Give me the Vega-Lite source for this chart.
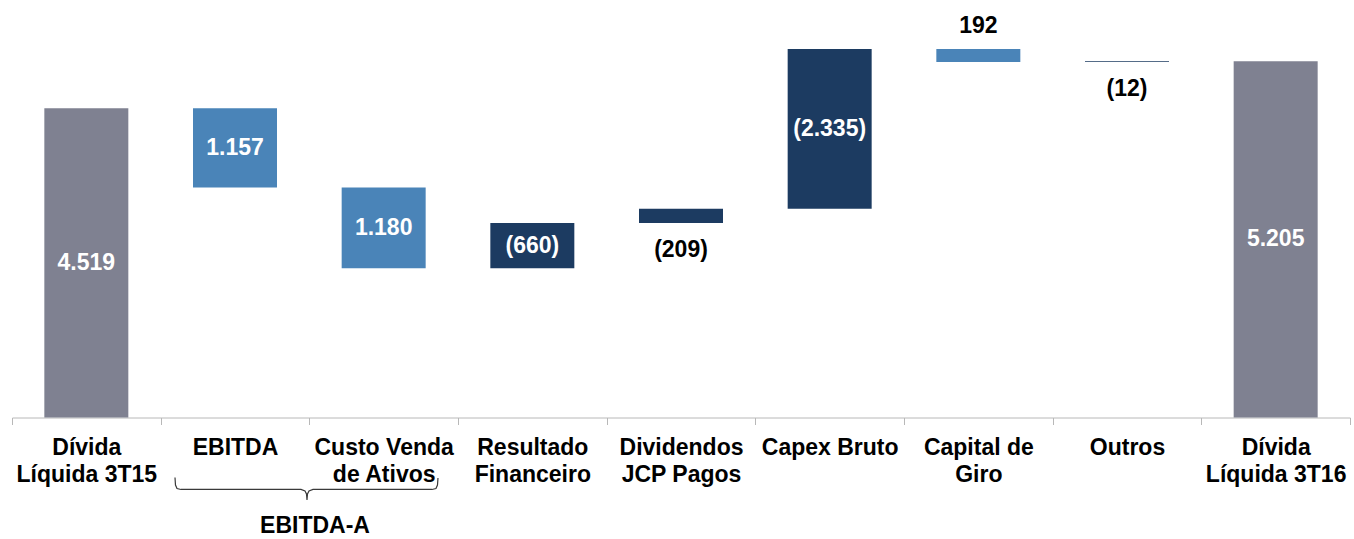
{
  "$schema": "https://vega.github.io/schema/vega-lite/v6.json",
  "width": 1338,
  "height": 539,
  "padding": {"left": 12, "right": 4, "top": 0, "bottom": 0},
  "autosize": {"type": "none"},
  "background": "white",
  "config": {"view": {"stroke": null}, "font": "Liberation Sans"},
  "datasets": {
    "flow": [
      {"category": "Dívida\nLíquida 3T15", "start": 0, "end": 4519, "label": "4.519", "type": "total"},
      {"category": "EBITDA", "start": 4519, "end": 3362, "label": "1.157", "type": "reduction"},
      {"category": "Custo Venda\nde Ativos", "start": 3362, "end": 2182, "label": "1.180", "type": "reduction"},
      {"category": "Resultado\nFinanceiro", "start": 2182, "end": 2842, "label": "(660)", "type": "increase"},
      {"category": "Dividendos\nJCP Pagos", "start": 2842, "end": 3051, "label": "(209)", "type": "increase"},
      {"category": "Capex Bruto", "start": 3051, "end": 5386, "label": "(2.335)", "type": "increase"},
      {"category": "Capital de\nGiro", "start": 5386, "end": 5194, "label": "192", "type": "reduction"},
      {"category": "Outros", "start": 5194, "end": 5206, "label": "(12)", "type": "increase"},
      {"category": "Dívida\nLíquida 3T16", "start": 0, "end": 5205, "label": "5.205", "type": "total"}
    ],
    "brace": [
      {"seq": 1, "bx": 1.0964, "by": -877, "group": "EBITDA-A"},
      {"seq": 2, "bx": 1.0997, "by": -987, "group": "EBITDA-A"},
      {"seq": 3, "bx": 1.1098, "by": -1038, "group": "EBITDA-A"},
      {"seq": 4, "bx": 1.1367, "by": -1052, "group": "EBITDA-A"},
      {"seq": 5, "bx": 1.9439, "by": -1052, "group": "EBITDA-A"},
      {"seq": 6, "bx": 1.9708, "by": -1074, "group": "EBITDA-A"},
      {"seq": 7, "bx": 1.9809, "by": -1118, "group": "EBITDA-A"},
      {"seq": 8, "bx": 1.9843, "by": -1206, "group": "EBITDA-A"},
      {"seq": 9, "bx": 1.9876, "by": -1118, "group": "EBITDA-A"},
      {"seq": 10, "bx": 1.9977, "by": -1074, "group": "EBITDA-A"},
      {"seq": 11, "bx": 2.0246, "by": -1052, "group": "EBITDA-A"},
      {"seq": 12, "bx": 2.825, "by": -1052, "group": "EBITDA-A"},
      {"seq": 13, "bx": 2.8519, "by": -1038, "group": "EBITDA-A"},
      {"seq": 14, "bx": 2.862, "by": -987, "group": "EBITDA-A"},
      {"seq": 15, "bx": 2.8654, "by": -884, "group": "EBITDA-A"}
    ]
  },
  "layer": [
    {
      "layer": [
        {
          "data": {"name": "flow"},
          "mark": {"type": "bar", "width": {"band": 0.565}},
          "encoding": {
            "x": {
              "field": "category",
              "type": "nominal",
              "sort": null,
              "title": null,
              "scale": {"paddingInner": 0, "paddingOuter": 0},
              "axis": {
                "offset": -121.5,
                "tickBand": "extent",
                "tickSize": 7,
                "tickColor": "#b8b8b8",
                "domainColor": "#b8b8b8",
                "grid": false,
                "labelAngle": 0,
                "labelFont": "Liberation Sans",
                "labelFontWeight": "bold",
                "labelFontSize": 23,
                "labelColor": "black",
                "labelPadding": 12,
                "labelLineHeight": 27,
                "labelOverlap": false,
                "labelLimit": 300,
                "labelExpr": "isValid(datum.value) ? split(datum.value, '\\n') : ''"
              }
            },
            "y": {"field": "start", "type": "quantitative", "scale": {"domain": [-1776, 6102], "nice": false, "zero": false}, "axis": null},
            "y2": {"field": "end"},
            "color": {"field": "type", "type": "nominal", "scale": {"domain": ["total", "reduction", "increase"], "range": ["#7f8191", "#4a84b8", "#1c3b61"]}, "legend": null}
          }
        },
        {
          "data": {"name": "flow"},
          "transform": [
            {"filter": "abs(datum.end - datum.start) > 400"},
            {"fold": ["start", "end"], "as": ["k", "v"]}
          ],
          "mark": {"type": "text", "color": "white", "fontWeight": "bold", "fontSize": 23, "baseline": "middle", "font": "Liberation Sans"},
          "encoding": {
            "x": {"field": "category", "type": "nominal", "sort": null},
            "y": {"aggregate": "mean", "field": "v", "type": "quantitative"},
            "text": {"field": "label", "type": "nominal"}
          }
        },
        {
          "data": {"name": "flow"},
          "transform": [
            {"filter": "abs(datum.end - datum.start) <= 400 && datum.type == 'reduction'"},
            {"fold": ["start", "end"], "as": ["k", "v"]}
          ],
          "mark": {"type": "text", "color": "black", "fontWeight": "bold", "fontSize": 23, "baseline": "middle", "dy": -23, "font": "Liberation Sans"},
          "encoding": {
            "x": {"field": "category", "type": "nominal", "sort": null},
            "y": {"aggregate": "max", "field": "v", "type": "quantitative"},
            "text": {"field": "label", "type": "nominal"}
          }
        },
        {
          "data": {"name": "flow"},
          "transform": [
            {"filter": "abs(datum.end - datum.start) <= 400 && datum.type == 'increase'"},
            {"fold": ["start", "end"], "as": ["k", "v"]}
          ],
          "mark": {"type": "text", "color": "black", "fontWeight": "bold", "fontSize": 23, "baseline": "middle", "dy": 27, "font": "Liberation Sans"},
          "encoding": {
            "x": {"field": "category", "type": "nominal", "sort": null},
            "y": {"aggregate": "min", "field": "v", "type": "quantitative"},
            "text": {"field": "label", "type": "nominal"}
          }
        }
      ]
    },
    {
      "layer": [
        {
          "data": {"name": "brace"},
          "mark": {"type": "line", "color": "#3a3a3a", "strokeWidth": 1.2, "interpolate": "linear"},
          "encoding": {
            "x": {"field": "bx", "type": "quantitative", "scale": {"domain": [0, 9], "nice": false, "zero": false}, "axis": null},
            "y": {"field": "by", "type": "quantitative"},
            "order": {"field": "seq", "type": "quantitative"}
          }
        },
        {
          "data": {"name": "brace"},
          "transform": [{"filter": "datum.seq == 8"}],
          "mark": {"type": "text", "color": "black", "fontWeight": "bold", "fontSize": 23, "baseline": "middle", "dy": 26, "dx": 8, "font": "Liberation Sans"},
          "encoding": {
            "x": {"field": "bx", "type": "quantitative"},
            "y": {"field": "by", "type": "quantitative"},
            "text": {"field": "group", "type": "nominal"}
          }
        }
      ]
    }
  ],
  "resolve": {"scale": {"x": "independent"}}
}
